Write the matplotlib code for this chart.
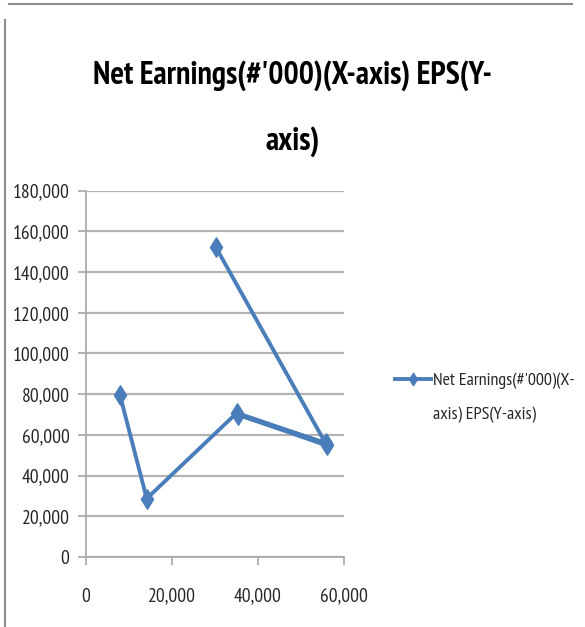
import matplotlib
matplotlib.use("Agg")
import matplotlib.pyplot as plt
from matplotlib import font_manager
from matplotlib.path import Path
from matplotlib.lines import Line2D

# ---- data ----
net_earnings = [8000, 14200, 35100, 55900, 35300, 56000, 30200]
eps = [79500, 28700, 70800, 55800, 70000, 54800, 152400]
y_ticks = [0, 20000, 40000, 60000, 80000, 100000, 120000, 140000, 160000, 180000]
x_ticks = [0, 20000, 40000, 60000]
title_text = "Net Earnings(#'000)(X-axis) EPS(Y-\naxis)"
legend_text = "Net Earnings(#'000)(X-\naxis) EPS(Y-axis)"

names = {f.name for f in font_manager.fontManager.ttflist}
fam = [n for n in ["PT Sans Narrow", "Roboto Condensed", "Carlito", "DejaVu Sans"] if n in names]
plt.rcParams['font.family'] = fam

blue = "#4a7ebb"
txt = "#262626"

fig = plt.figure(figsize=(5.85, 6.27), dpi=100)
ax = fig.add_axes([0.1462, 0.1116, 0.4419, 0.5843])

diamond = Path([(0, 1.6), (1, 0), (0, -1.6), (-1, 0), (0, 1.6)],
               [Path.MOVETO, Path.LINETO, Path.LINETO, Path.LINETO, Path.CLOSEPOLY])

ax.plot(net_earnings, eps, color=blue, lw=2.8, marker=diamond, ms=14,
        mec=blue, mfc=blue, solid_joinstyle='round')

ax.set_xlim(0, 60000)
ax.set_ylim(0, 180000)
ax.set_xticks(x_ticks)
ax.set_yticks(y_ticks)
ax.set_xticklabels([f"{v:,}" for v in x_ticks])
ax.set_yticklabels([f"{v:,}" for v in y_ticks])
ax.yaxis.grid(True, color="#b3b3b3", lw=1.6)
ax.set_axisbelow(True)
for s in ["top", "right"]:
    ax.spines[s].set_visible(False)
for s in ["left", "bottom"]:
    ax.spines[s].set_color("#a6a6a6")
    ax.spines[s].set_linewidth(1.2)
ax.tick_params(axis='both', colors="#a6a6a6", length=6, width=1.2, labelsize=14,
               labelcolor=txt, direction='out')
ax.tick_params(axis='y', pad=5.5)
ax.tick_params(axis='x', pad=16)

fig.text(0.5, 0.8268, title_text, ha='center', va='center', fontsize=23,
         fontweight='bold', color='black', linespacing=2.45)

# legend
leg_handle = Line2D([], [], color=blue, lw=2.8, marker=diamond, ms=9, mec=blue, mfc=blue)
leg = fig.legend([leg_handle], [legend_text], loc='center left',
                 bbox_to_anchor=(395/585, 1 - 398/627), frameon=False, fontsize=13,
                 handlelength=2.0, handletextpad=0.1, borderpad=0, borderaxespad=0,
                 labelcolor=txt)
for t in leg.get_texts():
    t.set_linespacing(2.4)
try:
    for col in leg._legend_handle_box.get_children():
        for row in col.get_children():
            row.align = 'top'
except Exception:
    pass

# chart frame (partially visible)
fig.add_artist(Line2D([9/585, 572/585], [1 - 4/627, 1 - 4/627], color="#8c8c8c", lw=1.5,
                      transform=fig.transFigure))
fig.add_artist(Line2D([5/585, 5/585], [0, 1 - 20/627], color="#8c8c8c", lw=1.5,
                      transform=fig.transFigure))

fig.savefig("out.png", dpi=100)
